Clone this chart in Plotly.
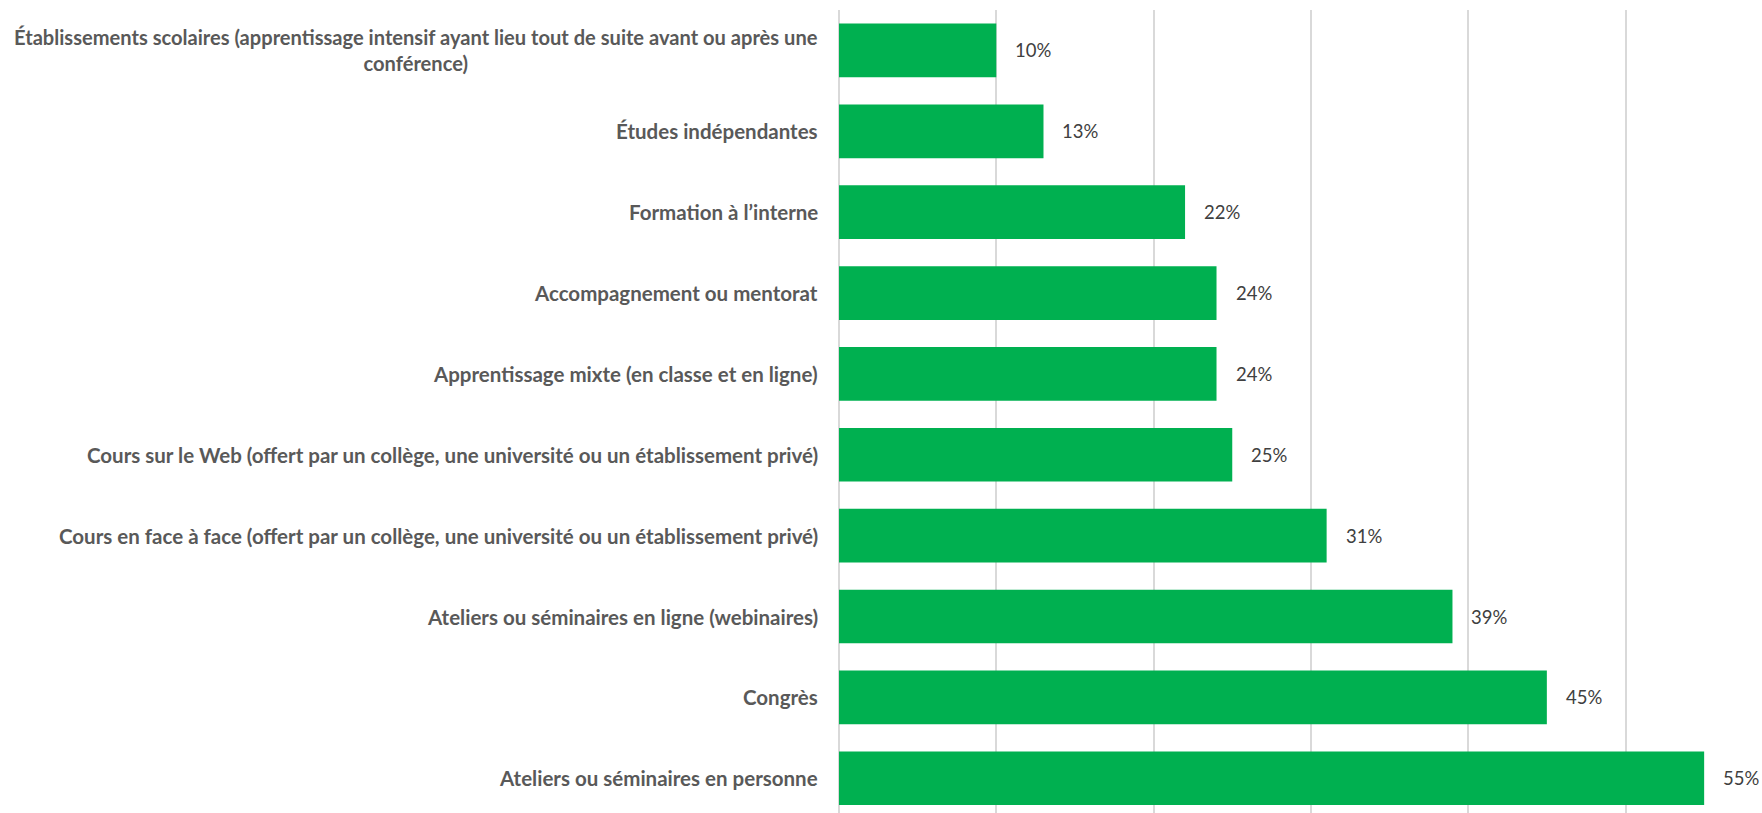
import plotly.graph_objects as go

categories = [
    "Établissements scolaires (apprentissage intensif ayant lieu tout de suite avant ou après une<br>conférence)",
    "Études indépendantes",
    "Formation à l’interne",
    "Accompagnement ou mentorat",
    "Apprentissage mixte (en classe et en ligne)",
    "Cours sur le Web (offert par un collège, une université ou un établissement privé)",
    "Cours en face à face (offert par un collège, une université ou un établissement privé)",
    "Ateliers ou séminaires en ligne (webinaires)",
    "Congrès",
    "Ateliers ou séminaires en personne",
]
values = [0.10, 0.13, 0.22, 0.24, 0.24, 0.25, 0.31, 0.39, 0.45, 0.55]
value_labels = ["10%", "13%", "22%", "24%", "24%", "25%", "31%", "39%", "45%", "55%"]
grid_ticks = [0, 0.1, 0.2, 0.3, 0.4, 0.5]

W, H = 1762, 813
left = 839
px_per_unit = 1573.0
xmax = (W - left) / px_per_unit
idx = list(range(len(categories)))

fig = go.Figure()
fig.add_trace(go.Bar(
    x=values, y=idx, orientation="h",
    marker=dict(color="#00B050", line=dict(width=0)),
    width=0.664, hoverinfo="skip",
))

annotations = []
for i, (v, t) in enumerate(zip(values, value_labels)):
    annotations.append(dict(
        x=v, y=i, xref="x", yref="y", text=t, showarrow=False,
        xanchor="left", yanchor="middle", xshift=17,
        font=dict(family="Lato, 'Open Sans', sans-serif", size=18.5, color="#404040"),
    ))
for i, c in enumerate(categories):
    annotations.append(dict(
        x=0, y=i, xref="x", yref="y", text=c, showarrow=False,
        xanchor="right", yanchor="middle", xshift=-19, align="center",
        font=dict(family="Lato, 'Open Sans', sans-serif",
                  size=20.1 if i == 0 else 20.5, color="#595959", weight="bold"),
    ))

fig.update_layout(
    width=W, height=H,
    margin=dict(l=left, r=0, t=10, b=0, pad=0),
    plot_bgcolor="white", paper_bgcolor="white",
    showlegend=False,
    annotations=annotations,
    xaxis=dict(
        range=[0, xmax], tickvals=grid_ticks, showticklabels=False,
        showgrid=True, gridcolor="#D9D9D9", gridwidth=2,
        zeroline=True, zerolinecolor="#D9D9D9", zerolinewidth=2,
        showline=False, fixedrange=True,
    ),
    yaxis=dict(
        range=[9.43, -0.5], showticklabels=False, showgrid=False,
        zeroline=False, showline=False, fixedrange=True,
    ),
)

fig.write_html("out.html", config={"displayModeBar": False},
               post_script="document.body.style.margin='0';document.body.style.overflow='hidden';")
